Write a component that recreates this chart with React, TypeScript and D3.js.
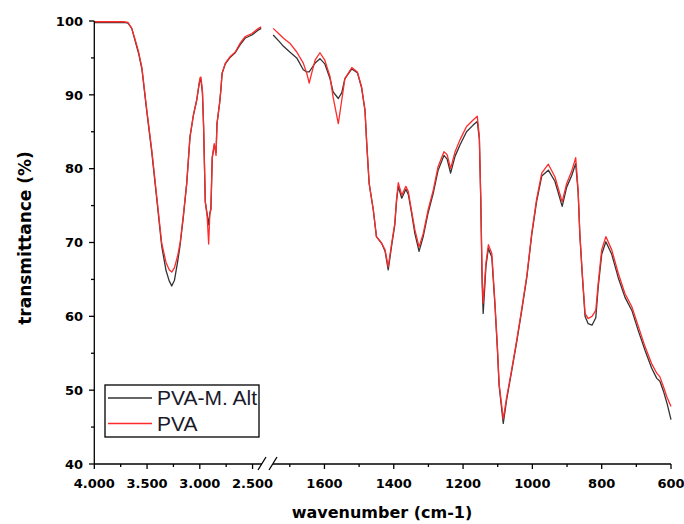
import * as d3 from "d3";
import React from "react";

// wavenumber (cm-1) and transmittance (%), two segments of a broken axis
const wnLeft = [4000, 3900, 3800, 3720, 3680, 3645, 3611, 3580, 3548, 3502, 3455, 3408, 3361, 3320, 3290, 3266, 3240, 3210, 3187, 3155, 3124, 3093, 3060, 3029, 3010, 2998, 2989, 2975, 2964, 2948, 2930, 2916, 2905, 2895, 2882, 2863, 2846, 2837, 2812, 2799, 2789, 2758, 2711, 2664, 2617, 2569, 2506, 2443, 2418];
const pvaLeft = [99.9, 99.9, 99.9, 99.9, 99.8, 99.0, 97.4, 95.8, 93.6, 87.9, 82.5, 76.2, 69.9, 67.3, 66.3, 66.0, 66.6, 68.2, 69.9, 73.8, 78.0, 84.3, 87.3, 89.3, 91.2, 92.3, 92.4, 90.5, 85.7, 75.5, 73.5, 69.8, 73.8, 74.5, 81.5, 83.4, 81.8, 86.1, 88.9, 90.9, 92.9, 94.3, 95.2, 95.8, 97.0, 97.9, 98.3, 99.0, 99.2];
const altLeft = [99.8, 99.8, 99.8, 99.8, 99.7, 99.0, 97.2, 95.6, 93.4, 87.7, 82.2, 75.9, 69.5, 66.2, 64.8, 64.1, 64.9, 67.4, 69.6, 73.6, 78.0, 84.3, 87.3, 89.3, 91.1, 92.1, 92.0, 90.3, 85.7, 75.5, 73.8, 72.4, 74.0, 74.5, 81.5, 83.2, 82.2, 86.1, 88.9, 90.9, 92.9, 94.2, 95.1, 95.7, 96.8, 97.7, 98.1, 98.8, 99.0];

const wnRight = [1748, 1730, 1719, 1700, 1680, 1661, 1651, 1644, 1637, 1627, 1613, 1599, 1584, 1575, 1560, 1550, 1541, 1521, 1505, 1493, 1483, 1478, 1471, 1459, 1450, 1435, 1425, 1416, 1406, 1397, 1392, 1387, 1377, 1365, 1358, 1349, 1339, 1327, 1315, 1301, 1286, 1272, 1255, 1246, 1236, 1223, 1209, 1190, 1171, 1159, 1153, 1149, 1145, 1142, 1138, 1134, 1127, 1117, 1108, 1101, 1096, 1084, 1074, 1060, 1045, 1031, 1016, 1002, 988, 973, 954, 935, 914, 901, 887, 875, 868, 863, 856, 848, 839, 828, 817, 810, 800, 788, 771, 752, 733, 713, 694, 675, 656, 641, 632, 622, 612, 600];
const pvaRight = [99.0, 98.2, 97.7, 97.0, 95.8, 94.3, 92.9, 91.6, 92.9, 94.7, 95.7, 94.7, 92.5, 89.7, 86.1, 89.3, 92.2, 93.7, 93.1, 91.1, 87.9, 83.4, 78.0, 74.4, 70.8, 69.9, 69.0, 66.7, 69.9, 72.6, 75.8, 78.1, 76.4, 77.6, 76.9, 74.4, 71.7, 69.4, 71.2, 74.4, 77.1, 80.3, 82.3, 81.9, 80.0, 82.3, 83.9, 85.7, 86.6, 87.1, 84.3, 76.2, 65.4, 61.8, 64.5, 67.2, 69.7, 68.5, 61.8, 55.9, 50.9, 46.1, 49.1, 52.7, 56.8, 60.9, 65.5, 71.2, 75.8, 79.4, 80.6, 78.9, 75.5, 78.0, 79.6, 81.5, 77.1, 71.2, 65.8, 60.4, 59.7, 60.0, 60.8, 64.5, 69.0, 70.8, 69.0, 65.8, 63.1, 61.3, 58.6, 55.9, 53.6, 52.3, 51.8, 50.5, 49.1, 47.8];
const altRight = [98.1, 97.2, 96.6, 95.8, 95.0, 93.4, 93.1, 93.1, 93.6, 94.3, 94.9, 94.2, 92.2, 90.4, 89.5, 90.3, 92.2, 93.5, 93.0, 91.0, 87.9, 83.4, 78.0, 74.4, 70.8, 69.9, 68.8, 66.3, 69.6, 72.4, 75.6, 77.6, 76.0, 77.2, 76.5, 74.1, 71.2, 68.8, 70.8, 74.0, 76.7, 79.8, 81.8, 81.3, 79.4, 81.7, 83.2, 85.0, 85.9, 86.4, 84.0, 76.0, 64.5, 60.4, 63.5, 66.8, 69.2, 68.0, 61.5, 55.6, 50.6, 45.5, 48.8, 52.5, 56.6, 60.7, 65.3, 71.0, 75.5, 79.0, 79.8, 78.3, 74.9, 77.5, 79.0, 80.7, 76.8, 71.0, 65.6, 60.0, 59.0, 58.8, 59.8, 64.0, 68.4, 70.1, 68.4, 65.2, 62.6, 60.8, 58.0, 55.4, 53.0, 51.6, 51.2, 49.9, 48.3, 46.0];

const yTicks = [40, 50, 60, 70, 80, 90, 100];
const yMinor = [45, 55, 65, 75, 85, 95];
const leftTicks = [4000, 3500, 3000, 2500];
const leftLabels = ["4.000", "3.500", "3.000", "2.500"];
const leftMinor = [3750, 3250, 2750];
const rightTicks = [1600, 1400, 1200, 1000, 800, 600];
const rightMinor = [1700, 1500, 1300, 1100, 900, 700];

const series = [
  { name: "PVA-M. Alt", color: "#333333", left: altLeft, right: altRight },
  { name: "PVA", color: "#ff2a2a", left: pvaLeft, right: pvaRight },
];

const W = 684;
const H = 524;
const axisY = 464;

export default function App() {
  const y = d3.scaleLinear().domain([40, 100]).range([464, 21]);
  const xL = d3.scaleLinear().domain([4000, 2400]).range([94.3, 263.1]);
  const xR = d3.scaleLinear().domain([1760, 600]).range([269, 671]);

  const lineL = (vals: number[]) =>
    d3.line<number>().x((_, i) => xL(wnLeft[i])).y((d) => y(d))(vals) || "";
  const lineR = (vals: number[]) =>
    d3.line<number>().x((_, i) => xR(wnRight[i])).y((d) => y(d))(vals) || "";

  const tickFont = { fontFamily: "DejaVu Sans", fontWeight: "bold", fontSize: 13 } as const;

  return (
    <svg
      width={W}
      height={H}
      style={{ position: "absolute", left: 0, top: 0, background: "#fff" }}
    >
      {/* curves */}
      <g fill="none" strokeWidth={1.3} strokeLinejoin="round">
        {series.map((s) => (
          <g key={s.name} stroke={s.color}>
            <path d={lineL(s.left)} />
            <path d={lineR(s.right)} />
          </g>
        ))}
      </g>

      {/* y axis */}
      <g stroke="#000" strokeWidth={1.3}>
        <line x1={94.3} x2={94.3} y1={y(100)} y2={axisY} />
        {yTicks.map((t) => (
          <line key={t} x1={89} x2={94.3} y1={y(t)} y2={y(t)} />
        ))}
        {yMinor.map((t) => (
          <line key={t} x1={91} x2={94.3} y1={y(t)} y2={y(t)} />
        ))}
      </g>
      <g {...tickFont} textAnchor="end">
        {yTicks.map((t) => (
          <text key={t} x={83} y={y(t)} dy="0.36em">
            {t}
          </text>
        ))}
      </g>

      {/* x axis, broken */}
      <g stroke="#000" strokeWidth={1.3}>
        <line x1={94.3} x2={262} y1={axisY} y2={axisY} />
        <line x1={273} x2={671} y1={axisY} y2={axisY} />
        <line x1={258} x2={266} y1={470} y2={457} />
        <line x1={269} x2={277} y1={470} y2={457} />
        {leftTicks.map((t) => (
          <line key={t} x1={xL(t)} x2={xL(t)} y1={axisY} y2={axisY + 5} />
        ))}
        {leftMinor.map((t) => (
          <line key={t} x1={xL(t)} x2={xL(t)} y1={axisY} y2={axisY + 3} />
        ))}
        {rightTicks.map((t) => (
          <line key={t} x1={xR(t)} x2={xR(t)} y1={axisY} y2={axisY + 5} />
        ))}
        {rightMinor.map((t) => (
          <line key={t} x1={xR(t)} x2={xR(t)} y1={axisY} y2={axisY + 3} />
        ))}
      </g>
      <g {...tickFont} textAnchor="middle">
        {leftTicks.map((t, i) => (
          <text key={t} x={xL(t)} y={488}>
            {leftLabels[i]}
          </text>
        ))}
        {rightTicks.map((t) => (
          <text key={t} x={xR(t)} y={488}>
            {t}
          </text>
        ))}
      </g>

      {/* axis titles */}
      <text
        x={382}
        y={518}
        textAnchor="middle"
        fontFamily="DejaVu Sans"
        fontWeight="bold"
        fontSize={16}
      >
        wavenumber (cm-1)
      </text>
      <text
        transform="translate(31,238) rotate(-90)"
        textAnchor="middle"
        fontFamily="DejaVu Sans"
        fontWeight="bold"
        fontSize={17}
      >
        transmittance (%)
      </text>

      {/* legend */}
      <rect x={105} y={385} width={154} height={52} fill="#fff" stroke="#000" strokeWidth={1.3} />
      {series.map((s, i) => (
        <g key={s.name}>
          <line x1={108} x2={152} y1={398 + i * 25.5} y2={398 + i * 25.5} stroke={s.color} strokeWidth={1.5} />
          <text
            x={157}
            y={405 + i * 25.5}
            fontFamily="Liberation Sans"
            fontSize={21}
            fill="#1a1a2a"
          >
            {s.name}
          </text>
        </g>
      ))}
    </svg>
  );
}
